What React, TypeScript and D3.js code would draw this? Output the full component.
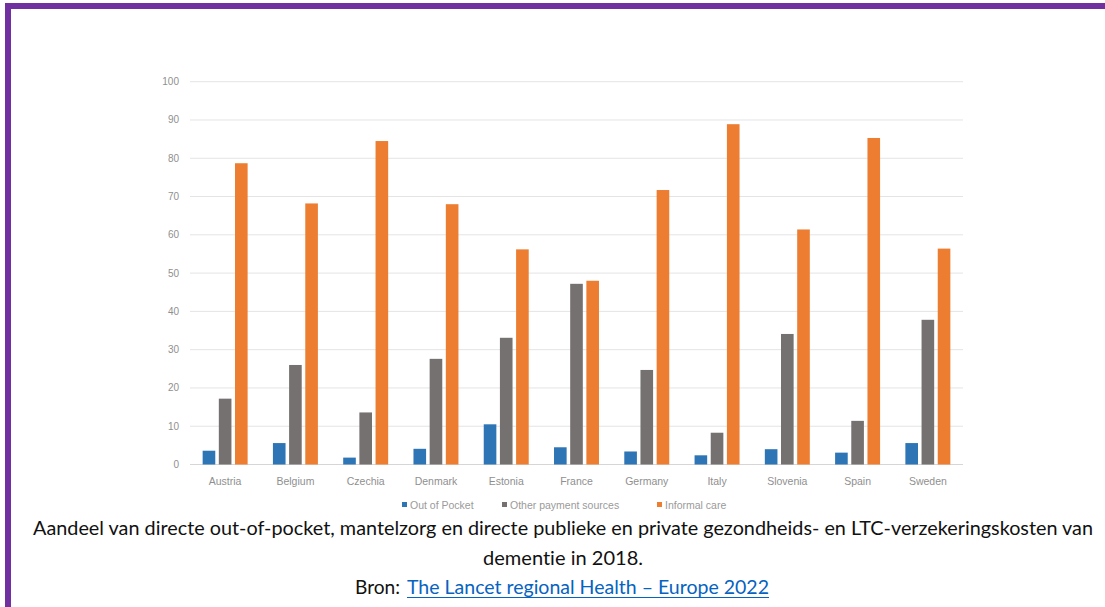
import React from 'react';
import * as d3 from 'd3';

const countries = ['Austria', 'Belgium', 'Czechia', 'Denmark', 'Estonia', 'France', 'Germany', 'Italy', 'Slovenia', 'Spain', 'Sweden'];
const outOfPocket = [3.6, 5.6, 1.8, 4.1, 10.5, 4.5, 3.4, 2.4, 4.0, 3.1, 5.6];
const otherPayment = [17.2, 26.0, 13.6, 27.6, 33.1, 47.2, 24.7, 8.3, 34.1, 11.4, 37.8];
const informalCare = [78.7, 68.2, 84.5, 68.0, 56.2, 48.0, 71.7, 88.9, 61.4, 85.3, 56.4];
const seriesNames = ['Out of Pocket', 'Other payment sources', 'Informal care'];
const seriesColors = ['#2e75b6', '#767171', '#ed7d31'];
const yTicks = [0, 10, 20, 30, 40, 50, 60, 70, 80, 90, 100];

const captionLine1 = 'Aandeel van directe out-of-pocket, mantelzorg en directe publieke en private gezondheids- en LTC-verzekeringskosten van';
const captionLine2 = 'dementie in 2018.';
const sourcePrefix = 'Bron:';
const sourceLink = 'The Lancet regional Health \u2013 Europe 2022';

const W = 1105;
const H = 607;
const plot = { left: 190, right: 963, top: 81.7, bottom: 464.5 };

export default function App() {
    const series = [outOfPocket, otherPayment, informalCare];

    const x0 = d3.scaleBand<string>()
        .domain(countries)
        .range([plot.left, plot.right])
        .paddingInner(0.36)
        .paddingOuter(0.18);

    const x1 = d3.scaleBand<number>()
        .domain([0, 1, 2])
        .range([0, x0.bandwidth()])
        .paddingInner(0.22);

    const y = d3.scaleLinear()
        .domain([0, 100])
        .range([plot.bottom, plot.top]);

    const xCenter = (c: string) => (x0(c) ?? 0) + x0.bandwidth() / 2;

    // legend item positions
    const legendX = [402, 502, 657];

    return (
        <svg width={W} height={H} style={{ position: 'fixed', left: 0, top: 0, background: '#fff' }}
            fontFamily="'Liberation Sans', Arial, sans-serif">
            <rect x={0} y={0} width={W} height={H} fill="#ffffff" />
            {/* purple frame */}
            <rect x={5} y={3} width={W - 5} height={6} fill="#7030a0" />
            <rect x={5} y={3} width={6} height={H - 3} fill="#7030a0" />

            {/* gridlines + y ticks */}
            {yTicks.map(t => (
                <g key={t}>
                    <line x1={plot.left} x2={plot.right} y1={y(t)} y2={y(t)}
                        stroke={t === 0 ? '#d6d6d6' : '#e4e4e4'} strokeWidth={1} />
                    <text x={179} y={y(t)} dy="0.35em" textAnchor="end" fontSize={10} fill="#8f8f8f">{t}</text>
                </g>
            ))}

            {/* bars */}
            {countries.map((c, i) => (
                <g key={c} transform={`translate(${x0(c)},0)`}>
                    {series.map((s, k) => (
                        <rect key={k}
                            x={x1(k)}
                            y={y(s[i])}
                            width={x1.bandwidth()}
                            height={y(0) - y(s[i])}
                            fill={seriesColors[k]} />
                    ))}
                </g>
            ))}

            {/* x labels */}
            {countries.map(c => (
                <text key={c} x={xCenter(c)} y={481} dy="0.35em" textAnchor="middle" fontSize={10.5} fill="#8f8f8f">{c}</text>
            ))}

            {/* legend */}
            {seriesNames.map((n, k) => (
                <g key={n} transform={`translate(${legendX[k]},505)`}>
                    <rect x={0} y={-3} width={5} height={5} fill={seriesColors[k]} />
                    <text x={8} y={0} dy="0.35em" fontSize={10.5} fill="#9a9a9a">{n}</text>
                </g>
            ))}

            {/* caption */}
            <g fontFamily="Lato, 'Open Sans', sans-serif" fontSize={18.5} fill="#111111"
                style={{ fontVariantLigatures: 'none' }}>
                <text x={563} y={535} textAnchor="middle" textLength={1060} lengthAdjust="spacingAndGlyphs">{captionLine1}</text>
                <text x={563} y={565} textAnchor="middle" textLength={160} lengthAdjust="spacingAndGlyphs">{captionLine2}</text>
                <text x={355} y={594} textLength={45} lengthAdjust="spacingAndGlyphs">{sourcePrefix}</text>
                <text x={407} y={594} fill="#0563c1" textLength={362} lengthAdjust="spacingAndGlyphs">{sourceLink}</text>
                <line x1={407} x2={769} y1={597.5} y2={597.5} stroke="#0563c1" strokeWidth={1} />
            </g>
        </svg>
    );
}
